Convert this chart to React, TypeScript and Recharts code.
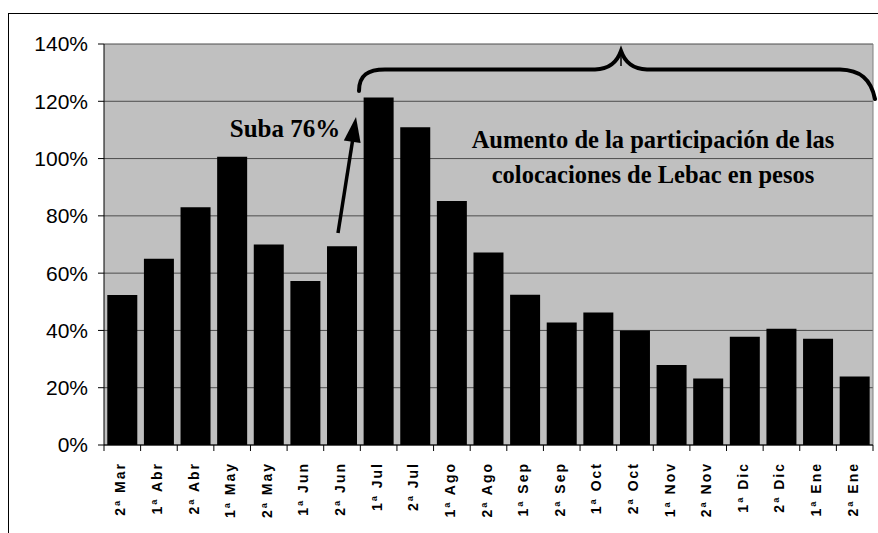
import React from 'react';
import { BarChart, Bar, XAxis, YAxis, CartesianGrid } from 'recharts';

const periods = ['2ª Mar', '1ª Abr', '2ª Abr', '1ª May', '2ª May', '1ª Jun', '2ª Jun', '1ª Jul', '2ª Jul', '1ª Ago', '2ª Ago', '1ª Sep', '2ª Sep', '1ª Oct', '2ª Oct', '1ª Nov', '2ª Nov', '1ª Dic', '2ª Dic', '1ª Ene', '2ª Ene'];
const ratios = [52.4, 65, 83, 100.6, 70, 57.3, 69.4, 121.3, 110.9, 85.2, 67.2, 52.5, 42.8, 46.3, 40, 27.9, 23.2, 37.8, 40.6, 37.1, 23.9];
const yTicks = [0, 20, 40, 60, 80, 100, 120, 140];
const arrowNote = 'Suba 76%';
const braceNote = ['Aumento de la participación de las', 'colocaciones de Lebac en pesos'];

const data = periods.map((p, i) => ({ period: p, value: ratios[i] }));

const CHART_W = 870;
const CHART_H = 520;
const Y_W = 96;
const X_H = 88;
const MARGIN = { top: 31, right: 5, left: 0, bottom: 0 };
const BAND = (CHART_W - MARGIN.left - MARGIN.right - Y_W) / periods.length;

const XTick = (props: any) => {
  const { x, y, payload, index } = props;
  const half = BAND / 2;
  return (
    <g>
      <line x1={x - half} y1={y} x2={x - half} y2={y + 6} stroke="#000" strokeWidth={1} />
      {index === periods.length - 1 && (
        <line x1={x + half} y1={y} x2={x + half} y2={y + 6} stroke="#000" strokeWidth={1} />
      )}
      <text
        transform={`translate(${x + 3},${y + 17}) rotate(-90)`}
        textAnchor="end"
        fontFamily="Arial, 'Liberation Sans', sans-serif"
        fontWeight="bold"
        fontSize={14}
        letterSpacing={2}
        fill="#000"
      >
        {payload.value}
      </text>
    </g>
  );
};

export default function App() {
  return (
    <div style={{ position: 'fixed', left: 8, top: 13, width: CHART_W, height: CHART_H, overflow: 'hidden', background: '#fff' }}>
      <BarChart width={CHART_W} height={CHART_H} data={data} margin={MARGIN} barCategoryGap="9%">
        <CartesianGrid horizontal vertical={false} stroke="#4d4d4d" fill="#c0c0c0" fillOpacity={1} />
        <CartesianGrid
          horizontal={false}
          vertical
          stroke="#808080"
          verticalCoordinatesGenerator={({ offset }: any) => [offset.left + offset.width]}
        />
        <XAxis
          dataKey="period"
          height={X_H}
          interval={0}
          tickSize={0}
          tickMargin={0}
          tickLine={false}
          axisLine={{ stroke: '#000' }}
          tick={<XTick />}
        />
        <YAxis
          width={Y_W}
          domain={[0, 140]}
          ticks={yTicks}
          interval={0}
          tickFormatter={(v: number) => `${v}%`}
          tickSize={6}
          tickMargin={10}
          axisLine={{ stroke: '#000' }}
          tickLine={{ stroke: '#000' }}
          tick={{ fill: '#000', fontSize: 21, fontFamily: "Arial, 'Liberation Sans', sans-serif" }}
        />
        <Bar dataKey="value" fill="#000" isAnimationActive={false} />
      </BarChart>
      <svg
        width={CHART_W}
        height={CHART_H}
        style={{ position: 'absolute', left: 0, top: 0, pointerEvents: 'none' }}
      >
        <line x1={0.5} y1={0} x2={0.5} y2={CHART_H} stroke="#000" strokeWidth={1} />
        <line x1={0} y1={0.5} x2={CHART_W} y2={0.5} stroke="#000" strokeWidth={1} />
        <path
          d="M 351 78 C 351 62, 360 56.5, 377 56.5 L 587 56.5 C 602 56, 609 49, 613 38 C 617 49, 624 56, 639 56.5 L 832 56.5 C 852 57, 863 66, 867 86"
          fill="none"
          stroke="#000"
          strokeWidth={4}
          strokeLinecap="round"
        />
        <line x1={613} y1={39} x2={613} y2={53} stroke="#000" strokeWidth={1.5} />
        <line x1={330} y1={220} x2={344.5} y2={128} stroke="#000" strokeWidth={3.5} />
        <polygon points="348,104 335.8,127.4 352.6,130" fill="#000" />
        <g fontFamily="'Times New Roman', 'Liberation Serif', serif" fontWeight="bold" fill="#000">
          <text x={277} y={123.7} textAnchor="middle" fontSize={25}>{arrowNote}</text>
          <text x={645} y={135} textAnchor="middle" fontSize={24.5}>{braceNote[0]}</text>
          <text x={645} y={170} textAnchor="middle" fontSize={24.5}>{braceNote[1]}</text>
        </g>
      </svg>
    </div>
  );
}
